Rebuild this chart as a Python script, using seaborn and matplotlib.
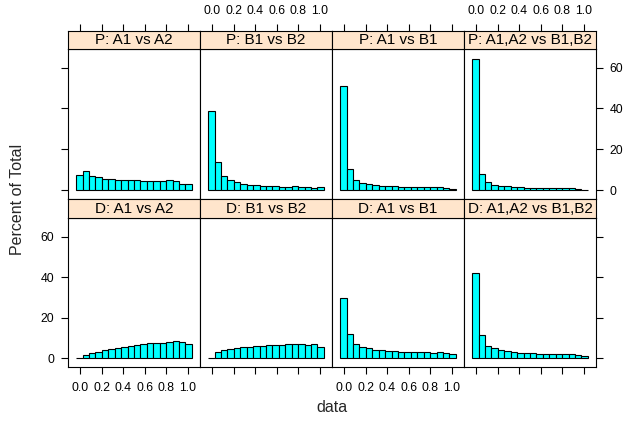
import numpy as np
import pandas as pd
import seaborn as sns
import matplotlib.pyplot as plt

# --- data: percent of total per bin ---
bin_edges = [-0.04, 0.02, 0.08, 0.14, 0.20, 0.26, 0.32, 0.38, 0.44, 0.50,
             0.56, 0.62, 0.68, 0.74, 0.80, 0.86, 0.92, 0.98, 1.04]

p_a1_a2 = [7.5, 9.4, 7.1, 6.2, 5.4, 5.3, 4.9, 4.9, 4.8, 4.8, 4.3, 4.4, 4.4, 4.3, 4.8, 4.3, 3.1, 3.1]
p_b1_b2 = [39.0, 13.6, 6.9, 4.9, 4.1, 3.1, 2.5, 2.3, 2.0, 1.8, 1.8, 1.6, 1.6, 1.8, 1.6, 1.6, 0.8, 1.3]
p_a1_b1 = [51.2, 10.5, 5.1, 3.6, 3.0, 2.5, 2.1, 2.0, 1.8, 1.6, 1.5, 1.5, 1.3, 1.3, 1.3, 1.3, 1.0, 0.7]
p_all = [64.3, 7.9, 3.8, 2.5, 2.0, 1.8, 1.5, 1.3, 1.1, 1.1, 1.0, 0.8, 1.0, 1.0, 1.0, 0.8, 0.5, 0.2]
d_a1_a2 = [0.3, 1.6, 2.5, 3.1, 3.9, 4.3, 4.9, 5.4, 6.1, 6.4, 6.9, 7.5, 7.7, 7.7, 7.9, 8.4, 7.9, 6.9]
d_b1_b2 = [0.3, 3.0, 3.9, 4.3, 4.9, 5.4, 5.6, 6.2, 6.2, 6.4, 6.7, 6.7, 6.9, 6.9, 6.9, 6.6, 6.9, 5.4]
d_a1_b1 = [29.5, 11.8, 7.2, 5.7, 4.8, 3.9, 3.9, 3.4, 3.3, 3.1, 3.0, 3.0, 3.0, 3.0, 2.6, 3.0, 2.6, 2.1]
d_all = [42.0, 11.2, 5.9, 4.8, 3.9, 3.4, 3.0, 2.8, 2.5, 2.5, 2.0, 2.3, 2.1, 2.1, 2.3, 2.1, 1.8, 1.3]

top_titles = ["P: A1 vs A2", "P: B1 vs B2", "P: A1 vs B1", "P: A1,A2 vs B1,B2"]
bottom_titles = ["D: A1 vs A2", "D: B1 vs B2", "D: A1 vs B1", "D: A1,A2 vs B1,B2"]
top_values = [p_a1_a2, p_b1_b2, p_a1_b1, p_all]
bottom_values = [d_a1_a2, d_b1_b2, d_a1_b1, d_all]

x_ticks = [0.0, 0.2, 0.4, 0.6, 0.8, 1.0]
x_labels = ['0.0', '0.2', '0.4', '0.6', '0.8', '1.0']
y_ticks = [0, 20, 40, 60]

edges = np.array(bin_edges)
centers = (edges[:-1] + edges[1:]) / 2

rows = []
for titles, vals in [(top_titles, top_values), (bottom_titles, bottom_values)]:
    for t, v in zip(titles, vals):
        for c, p in zip(centers, v):
            rows.append({"panel": t, "data": c, "pct": p})
df = pd.DataFrame(rows)

# --- style ---
sns.set_style("ticks")
plt.rcParams['font.family'] = ['Liberation Sans', 'DejaVu Sans']

W, H = 633, 423
fig = plt.figure(figsize=(W / 100, H / 100), dpi=100)


def rect(x0, y0, x1, y1):
    return [x0 / W, 1 - y1 / H, (x1 - x0) / W, (y1 - y0) / H]


col_x = [68, 200, 332, 464, 596]
row_box = [(30.7, 49.3, 199.3), (199.3, 218.3, 367.3)]  # strip top, panel top, panel bottom
xlim = (-0.1156, 1.1156)
ylim = (-4.5, 69.0)
tick_kw = dict(direction='out', length=4.8, width=0.8, labelsize=8.8, colors='black')

for r, titles in enumerate([top_titles, bottom_titles]):
    s_top, p_top, p_bot = row_box[r]
    for c, title in enumerate(titles):
        ax = fig.add_axes(rect(col_x[c], p_top, col_x[c + 1], p_bot))
        sub = df[df['panel'] == title]
        sns.histplot(data=sub, x='data', weights='pct', bins=bin_edges, ax=ax,
                     color='#00FFFF', edgecolor='black', linewidth=0.8, alpha=1)
        ax.set_xlim(xlim)
        ax.set_ylim(ylim)
        ax.set_xlabel('')
        ax.set_ylabel('')
        ax.set_xticks(x_ticks)
        ax.set_yticks(y_ticks)
        ax.set_xticklabels(x_labels)
        for sp in ax.spines.values():
            sp.set_visible(True)
            sp.set_color('black')
            sp.set_linewidth(0.8)
        ax.tick_params(axis='both', **tick_kw)

        # x axis: ticks only on outer edges, labels alternate (lattice style)
        if r == 1:
            ax.tick_params(axis='x', bottom=True, top=False,
                           labelbottom=(c % 2 == 0), labeltop=False, pad=6)
        else:
            ax.tick_params(axis='x', bottom=False, top=False,
                           labelbottom=False, labeltop=False)

        # y axis
        left_on = c == 0
        right_on = c == 3
        ax.tick_params(axis='y', left=left_on, right=right_on,
                       labelleft=(left_on and r == 1),
                       labelright=(right_on and r == 0), pad=5)

        # strip
        sax = fig.add_axes(rect(col_x[c], s_top, col_x[c + 1], p_top))
        sax.set_facecolor('#FFE5CC')
        sax.set_xlim(xlim)
        sax.set_yticks([])
        for sp in sax.spines.values():
            sp.set_visible(True)
            sp.set_color('black')
            sp.set_linewidth(0.8)
        sax.text(0.5, 0.5, title, transform=sax.transAxes, ha='center', va='center',
                 fontsize=11, color='black')
        if r == 0:
            sax.set_xticks(x_ticks)
            sax.set_xticklabels(x_labels)
            sax.tick_params(axis='x', **tick_kw)
            sax.tick_params(axis='x', top=True, bottom=False, labeltop=(c % 2 == 1),
                            labelbottom=False, pad=5)
        else:
            sax.set_xticks([])

fig.text(18 / W, 1 - 199 / H, 'Percent of Total', rotation=90, ha='center', va='center',
         fontsize=11.5)
fig.text(332 / W, 1 - 407 / H, 'data', ha='center', va='center', fontsize=11.5)

fig.savefig('out.png', dpi=100)
